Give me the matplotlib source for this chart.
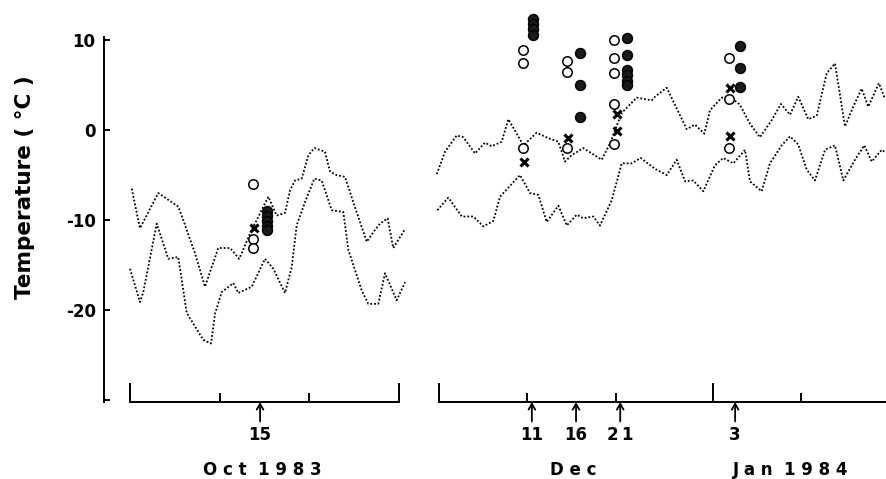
import matplotlib.pyplot as plt

plt.rcParams['font.family'] = ['DejaVu Sans']
plt.rcParams['font.weight'] = 'bold'

## dotted temperature traces (x = day of month, Dec/Jan panel: Jan d = 31 + d)

oct_hi_x = [1.19, 2.11, 4.15, 5.64, 6.38, 6.94, 8.25, 9.36, 10.84, 12.15, 13.17, 14.38,
            16.42, 17.35, 18.28, 18.84, 19.39, 20.14, 20.88, 21.55, 22.73, 23.30, 24.04,
            24.97, 25.89, 27.39, 28.31, 28.87, 29.73, 30.35, 31.66]
oct_hi_t = [-6.5, -10.9, -7.0, -8.0, -8.5, -10.0, -13.7, -17.4, -13.1, -13.1, -14.3, -11.5,
            -7.4, -9.5, -9.2, -6.7, -5.6, -5.4, -2.8, -2.0, -2.4, -4.6, -5.0,
            -5.2, -8.0, -12.4, -11.1, -10.4, -9.8, -13.1, -11.0]

oct_lo_x = [1.0, 2.11, 2.48, 3.98, 5.27, 6.38, 7.32, 9.17, 10.03, 10.48, 11.22, 12.52,
            13.07, 14.57, 16.05, 16.98, 18.28, 19.03, 19.58, 20.51, 21.55, 22.37, 23.49,
            24.78, 25.34, 26.83, 27.57, 28.68, 29.43, 30.73, 31.66]
oct_lo_t = [-15.4, -19.1, -18.0, -10.4, -14.3, -14.1, -20.3, -23.3, -23.7, -20.4, -18.0, -17.0,
            -18.1, -17.4, -14.3, -15.4, -18.1, -15.2, -10.6, -8.0, -5.4, -5.6, -8.9,
            -9.1, -13.3, -17.8, -19.3, -19.3, -15.9, -18.9, -16.9]

dec_hi_x = [0.74, 1.68, 3.0, 3.75, 5.07, 6.2, 6.96, 8.09, 8.84, 9.79, 10.54, 12.05, 13.36,
            14.5, 15.25, 16.0, 17.32, 19.4, 20.34, 21.67, 23.36, 25.06, 25.43, 26.76,
            29.02, 29.96, 31.01, 31.66, 32.98, 33.92, 35.05, 36.18, 37.31, 38.64, 39.69,
            40.71, 41.64, 42.78, 43.73, 44.86, 45.8, 46.93, 47.87, 48.82, 49.56, 50.77, 51.45]
dec_hi_t = [-4.9, -2.4, -0.6, -0.8, -2.6, -1.4, -1.8, -1.3, 1.2, -0.4, -1.7, -0.3, -0.9,
            -1.3, -3.5, -2.8, -2.0, -3.3, -1.5, 1.9, 3.6, 3.3, 3.7, 4.7,
            0.1, 0.6, -0.4, 2.2, 3.6, 3.7, 2.8, 0.7, -0.8, 1.1, 2.9,
            1.7, 3.7, 1.2, 1.6, 6.3, 7.4, 0.4, 2.6, 4.6, 2.6, 5.2, 3.5]

dec_lo_x = [0.81, 2.05, 3.57, 4.88, 6.01, 7.14, 7.9, 8.84, 10.16, 11.29, 12.23, 13.18, 14.5,
            15.45, 16.58, 17.32, 18.45, 19.21, 20.54, 21.67, 22.8, 23.82, 25.43, 26.76,
            27.89, 28.83, 29.77, 30.9, 32.22, 33.16, 34.29, 35.62, 36.18, 37.5, 38.44,
            39.77, 40.71, 41.64, 42.6, 43.53, 44.67, 45.8, 46.74, 48.06, 49.11, 49.95,
            51.08, 51.53]
dec_lo_t = [-8.9, -7.5, -9.6, -9.6, -10.7, -10.1, -7.4, -6.4, -5.0, -7.0, -7.2, -10.2, -8.4,
            -10.6, -9.4, -9.8, -9.6, -10.6, -7.8, -3.7, -3.7, -3.1, -4.3, -5.0,
            -3.3, -5.7, -5.6, -6.8, -3.9, -3.1, -3.7, -2.2, -5.7, -6.8, -3.7,
            -1.7, -0.7, -1.6, -4.4, -5.6, -2.2, -1.7, -5.6, -3.3, -1.7, -3.5,
            -2.2, -2.5]

## measurements on the sampling days

oct_open_x, oct_open = 14.71, [-6.0, -12.1, -13.1]
oct_cross_x, oct_cross = 14.82, [-10.9]
oct_fill_x, oct_fill = 16.27, [-9.0, -9.6, -10.1, -10.6, -11.1]

dec_open_x = [10.54, 15.48, 20.85, 33.86]
dec_open = [[8.9, 7.4, -2.0], [7.7, 6.5, -2.0], [10.0, 8.0, 6.3, 2.9, -1.6], [8.0, 3.4, -2.0]]
dec_cross_x = [10.62, 15.63, 21.1, 33.9]
dec_cross = [[-3.5], [-0.9], [1.8, -0.1], [4.7, -0.7]]
dec_fill_x = [11.67, 17.0, 22.23, 35.1]
dec_fill = [[12.3, 11.8, 11.2, 10.5], [8.6, 5.0, 1.5], [10.2, 8.3, 6.7, 6.1, 5.5, 5.0], [9.3, 6.9, 4.8]]

oct_arrows = [(15.5, '15')]
dec_arrows = [(11.5, '11'), (16.5, '16'), (21.5, '2\u20091'), (34.5, '3')]

## plot and save

fig = plt.figure(figsize=(8.86, 4.79), dpi=100)
ax1 = fig.add_axes([0.11738, 0.16075, 0.34763, 0.76326])
ax2 = fig.add_axes([0.49153, 0.16075, 0.50847, 0.76326])

ymin, ymax = -30.2, 10.4
dots = dict(color='black', lw=1.3, ls=(0, (1, 1.1)))
open_m = dict(ls='none', marker='o', ms=6.8, mfc='white', mec='black', mew=1.1, clip_on=False)
fill_m = dict(ls='none', marker='o', ms=7.2, mfc='#1a1a1a', mec='black', mew=1.0, clip_on=False)
cross_m = dict(ls='none', marker='x', ms=5.5, mec='black', mew=2.2, clip_on=False)

ax1.plot(oct_hi_x, oct_hi_t, **dots)
ax1.plot(oct_lo_x, oct_lo_t, **dots)
ax1.plot([oct_open_x] * len(oct_open), oct_open, **open_m)
ax1.plot([oct_cross_x] * len(oct_cross), oct_cross, **cross_m)
ax1.plot([oct_fill_x] * len(oct_fill), oct_fill, **fill_m)

ax2.plot(dec_hi_x, dec_hi_t, **dots)
ax2.plot(dec_lo_x, dec_lo_t, **dots)
for i in range(len(dec_open_x)):
    ax2.plot([dec_open_x[i]] * len(dec_open[i]), dec_open[i], **open_m)
    ax2.plot([dec_cross_x[i]] * len(dec_cross[i]), dec_cross[i], **cross_m)
    ax2.plot([dec_fill_x[i]] * len(dec_fill[i]), dec_fill[i], **fill_m)

ax1.set_xlim(-1.9, 32.44)
ax2.set_xlim(0.6, 51.57)
for ax in (ax1, ax2):
    ax.set_ylim(ymin, ymax)
    ax.spines['top'].set_visible(False)
    ax.spines['right'].set_visible(False)
    ax.spines['bottom'].set_linewidth(1.4)
    ax.tick_params(axis='x', which='both', direction='in', width=1.4,
                   labelbottom=False)
    ax.tick_params(axis='x', which='major', length=14)
    ax.tick_params(axis='x', which='minor', length=6.5)

ax1.set_xticks([1, 31])
ax1.set_xticks([11, 21], minor=True)
ax1.spines['bottom'].set_bounds(1, 31)
ax2.set_xticks([1, 32])
ax2.set_xticks([11, 21, 42], minor=True)
ax2.spines['bottom'].set_bounds(1, 51.57)

ax1.spines['left'].set_linewidth(1.4)
ax1.spines['left'].set_bounds(ymin, 10.3)
ax1.set_yticks([-30, -20, -10, 0, 10])
ax1.set_yticklabels(['', '-20', '-10', '0', '10'])
ax1.tick_params(axis='y', direction='in', length=4.5, width=1.4, pad=6, labelsize=12)
ax2.spines['left'].set_visible(False)
ax2.set_yticks([])

ax1.set_ylabel('Temperature ( °C )', fontsize=15.5, fontweight='bold')
ax1.yaxis.set_label_coords(-0.225, 0.588)

for ax, arrows in ((ax1, oct_arrows), (ax2, dec_arrows)):
    for x, lab in arrows:
        ax.annotate(lab, xy=(x, ymin), xytext=(0, -17), textcoords='offset points',
                    ha='center', va='top', fontsize=12, fontweight='bold',
                    annotation_clip=False,
                    arrowprops=dict(arrowstyle='->,head_length=0.35,head_width=0.2',
                                    lw=1.3, color='black', shrinkA=1, shrinkB=0))

ax1.text(15.7, -0.186, 'O c t  1 9 8 3', transform=ax1.get_xaxis_transform(),
         ha='center', va='center', fontsize=12, fontweight='bold')
ax2.text(16.2, -0.186, 'D e c', transform=ax2.get_xaxis_transform(),
         ha='center', va='center', fontsize=12, fontweight='bold')
ax2.text(40.8, -0.186, 'J a n  1 9 8 4', transform=ax2.get_xaxis_transform(),
         ha='center', va='center', fontsize=12, fontweight='bold')

plt.savefig('out.png', dpi=100)
